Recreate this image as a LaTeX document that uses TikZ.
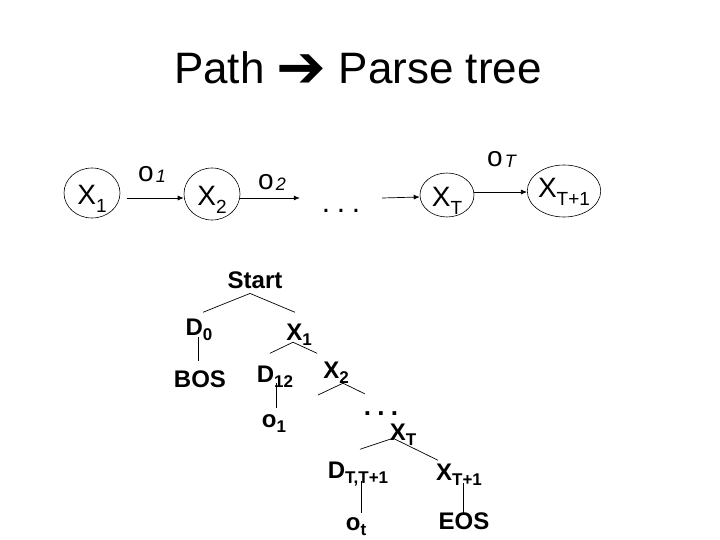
\documentclass[tikz,border=0pt]{standalone}
\usepackage{fontspec}
\setmainfont{Liberation Sans}
\newfontfamily\symfont{DejaVu Sans}
\usetikzlibrary{arrows.meta,shapes.geometric}
\providecommand{\ptLineWidth}{0.7pt}
\providecommand{\ptEllipseColor}{black}
\newcommand{\topsub}[1]{\raisebox{-8pt}{\fontsize{19}{19}\selectfont #1}}
\newcommand{\obssub}[1]{\hspace{2pt}\raisebox{-1pt}{\fontsize{18}{18}\selectfont\itshape #1}}
\newcommand{\treesub}[1]{\raisebox{-5pt}{\fontsize{17}{17}\selectfont\bfseries #1}}
\tikzset{
  hmmstate/.style={draw=\ptEllipseColor, line width=0.6pt, ellipse, inner sep=0pt, font=\fontsize{28}{28}\selectfont},
  obslabel/.style={anchor=base west, inner sep=0pt, font=\fontsize{28}{28}\selectfont},
  treenode/.style={anchor=base, inner sep=0pt, font=\fontsize{24}{24}\selectfont\bfseries},
  trans/.style={-{Latex[length=6pt,width=5pt]}, line width=\ptLineWidth},
  branch/.style={line width=\ptLineWidth},
}
\begin{document}
\begin{tikzpicture}[x=1pt, y=-1pt]
\useasboundingbox (0,0) rectangle (720,540);
% Title
\node[anchor=base, inner sep=0pt, font=\fontsize{44}{44}\selectfont] (title) at (358,84) {Path {\symfont\raisebox{-4pt}{\scalebox{1.35}{➔}}} Parse tree};
% Path: states and observations
\node[hmmstate, minimum width=56pt, minimum height=50pt] (x1) at (92,193) {\raisebox{-12pt}[0pt][0pt]{X\topsub{1}}};
\node[hmmstate, minimum width=56pt, minimum height=52pt] (x2) at (212,194) {\raisebox{-12pt}[0pt][0pt]{X\topsub{2}}};
\node[inner sep=0pt, minimum width=82pt] (dotsPath) at (341,198) {\raisebox{-15pt}[0pt][0pt]{\fontsize{30}{30}\selectfont .\hspace{6.7pt}.\hspace{6.7pt}.}};
\node[hmmstate, minimum width=54pt, minimum height=44pt] (xT) at (447,195) {\raisebox{-12pt}[0pt][0pt]{X\topsub{T}}};
\node[hmmstate, minimum width=58pt, minimum height=52pt] (xTT) at (564,191) {\raisebox{-7pt}[0pt][0pt]{X\topsub{T+1}}};
\node[obslabel] (oOne) at (138,182) {o\obssub{1}};
\node[obslabel] (oTwo) at (258,190) {o\obssub{2}};
\node[obslabel] (oT) at (487,167) {o\obssub{T}};
% Transitions
\draw[trans] ([shift={(7,5)}]x1.east) -- ([shift={(0,4)}]x2.west);
\draw[trans] ([shift={(0,4)}]x2.east) -- (dotsPath.west);
\draw[trans] (dotsPath.east) -- ([shift={(0,2)}]xT.west);
\draw[trans] ([shift={(0,-3)}]xT.east) -- ([shift={(0,1)}]xTT.west);
% Parse tree nodes
\node[treenode] (tStart) at (255,288) {Start};
\node[treenode] (tDzero) at (199,335) {D\treesub{0}};
\node[treenode] (tXone) at (299,340) {X\treesub{1}};
\node[treenode] (tBos) at (200,387) {BOS};
\node[treenode] (tDot) at (275,382) {D\treesub{12}};
\node[treenode] (tXtwo) at (336,378) {X\treesub{2}};
\node[treenode] (tOone) at (274,427) {o\treesub{1}};
\node[treenode, font=\fontsize{26}{26}\selectfont\bfseries] (tDots) at (381,415) {.\hspace{6.3pt}.\hspace{6.3pt}.};
\node[treenode] (tXT) at (403,440) {X\treesub{T}};
\node[treenode] (tDTT) at (358,478) {D\treesub{T,T+1}};
\node[treenode] (tXTT) at (459,480) {X\treesub{T+1}};
\node[treenode] (tOt) at (356,530) {o\treesub{t}};
\node[treenode] (tEos) at (464,529) {EOS};
\coordinate (tXtwoLeft) at (318,395);
% Parse tree branches
\begin{scope}[branch]
  \draw ([shift={(-5,5)}]tStart.south) -- ([shift={(4,-6)}]tDzero.north);
  \draw ([shift={(-5,5)}]tStart.south) -- ([shift={(-4,-11)}]tXone.north);
  \draw ([shift={(-1,-3)}]tDzero.south) -- ([shift={(-2,-9)}]tBos.north);
  \draw ([shift={(-6,-3)}]tXone.south) -- ([shift={(-5,-12)}]tDot.north);
  \draw ([shift={(-6,-3)}]tXone.south) -- ([shift={(-19,-8)}]tXtwo.north);
  \draw ([shift={(1,-4)}]tDot.south) -- ([shift={(2,-6)}]tOone.north);
  \draw ([shift={(7,0)}]tXtwo.south) -- (tXtwoLeft);
  \draw ([shift={(7,0)}]tXtwo.south) -- ([shift={(-16,-17)}]tDots.north);
  \draw ([shift={(-10,-7)}]tXT.south) -- ([shift={(2,-12)}]tDTT.north);
  \draw ([shift={(-10,-7)}]tXT.south) -- ([shift={(-21,-3)}]tXTT.north);
  \draw ([shift={(3,-5)}]tDTT.south) -- ([shift={(5,-4)}]tOt.north);
  \draw ([shift={(4,-2)}]tXTT.south) -- ([shift={(-1,2)}]tEos.north);
\end{scope}
\end{tikzpicture}
\end{document}
